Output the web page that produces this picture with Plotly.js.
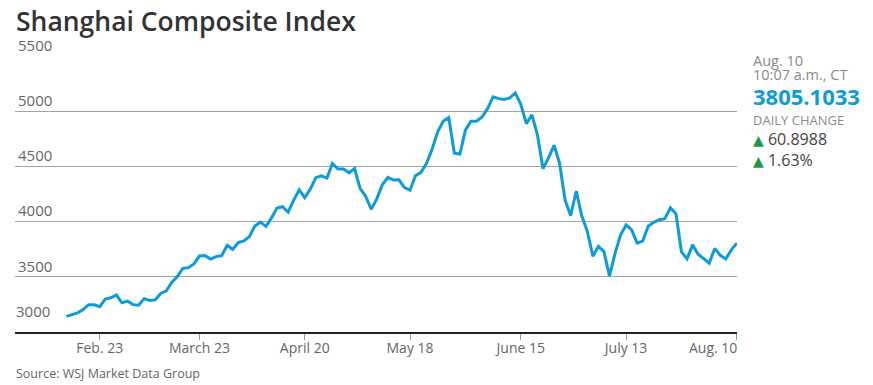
<!DOCTYPE html>
<html>
<head>
<meta charset="utf-8">
<script src="https://cdn.plot.ly/plotly-3.0.1.min.js"></script>
<style>
  html, body { margin: 0; padding: 0; background: #fff; }
  #chart { width: 873px; height: 385px; }
</style>
</head>
<body>
<div id="chart"></div>
<script>
// ---- Data (Shanghai Composite Index, daily closes, trading days) ----
const dates = [
  "2015-02-10","2015-02-11","2015-02-12","2015-02-13","2015-02-16","2015-02-17","2015-02-25","2015-02-26","2015-02-27",
  "2015-03-02","2015-03-03","2015-03-04","2015-03-05","2015-03-06","2015-03-09","2015-03-10","2015-03-11","2015-03-12","2015-03-13",
  "2015-03-16","2015-03-17","2015-03-18","2015-03-19","2015-03-20","2015-03-23","2015-03-24","2015-03-25","2015-03-26","2015-03-27",
  "2015-03-30","2015-03-31",
  "2015-04-01","2015-04-02","2015-04-03","2015-04-07","2015-04-08","2015-04-09","2015-04-10","2015-04-13","2015-04-14","2015-04-15",
  "2015-04-16","2015-04-17","2015-04-20","2015-04-21","2015-04-22","2015-04-23","2015-04-24","2015-04-27","2015-04-28","2015-04-29","2015-04-30",
  "2015-05-04","2015-05-05","2015-05-06","2015-05-07","2015-05-08","2015-05-11","2015-05-12","2015-05-13","2015-05-14","2015-05-15",
  "2015-05-18","2015-05-19","2015-05-20","2015-05-21","2015-05-22","2015-05-25","2015-05-26","2015-05-27","2015-05-28","2015-05-29",
  "2015-06-01","2015-06-02","2015-06-03","2015-06-04","2015-06-05","2015-06-08","2015-06-09","2015-06-10","2015-06-11","2015-06-12",
  "2015-06-15","2015-06-16","2015-06-17","2015-06-18","2015-06-19","2015-06-23","2015-06-24","2015-06-25","2015-06-26","2015-06-29","2015-06-30",
  "2015-07-01","2015-07-02","2015-07-03","2015-07-06","2015-07-07","2015-07-08","2015-07-09","2015-07-10","2015-07-13","2015-07-14",
  "2015-07-15","2015-07-16","2015-07-17","2015-07-20","2015-07-21","2015-07-22","2015-07-23","2015-07-24","2015-07-27","2015-07-28",
  "2015-07-29","2015-07-30","2015-07-31",
  "2015-08-03","2015-08-04","2015-08-05","2015-08-06","2015-08-07","2015-08-10"
];
const closes = [
  3142,3157,3173,3203,3247,3247,3229,3299,3310,
  3336,3264,3280,3248,3242,3302,3286,3291,3349,3372,
  3449,3503,3577,3583,3617,3688,3692,3661,3683,3691,
  3786,3748,
  3810,3825,3863,3961,3995,3957,4034,4122,4135,4085,
  4195,4287,4217,4294,4398,4414,4394,4527,4476,4476,4442,
  4480,4298,4229,4112,4206,4334,4401,4376,4378,4308,
  4284,4417,4446,4530,4658,4813,4910,4942,4620,4612,
  4828,4910,4910,4947,5023,5131,5114,5106,5121,5166,
  5062,4887,4967,4786,4478,4577,4691,4527,4193,4053,4277,
  4053,3913,3687,3776,3728,3507,3710,3878,3970,3925,
  3806,3823,3958,3993,4017,4026,4124,4071,3726,3663,
  3789,3705,3664,
  3623,3757,3695,3662,3744,3805
];
const xTickDates  = ["2015-02-23","2015-03-23","2015-04-20","2015-05-18","2015-06-15","2015-07-13","2015-08-10"];
const xTickLabels = ["Feb. 23","March 23","April 20","May 18","June 15","July 13","Aug. 10"];
const yTickVals   = [3000, 3500, 4000, 4500, 5000, 5500];
const yTickLabels = ["3000","3500","4000","4500","5000","5500"];

const titleText   = "Shanghai Composite Index";
const sourceText  = "Source: WSJ Market Data Group";
const lastDate    = "Aug. 10";
const lastTime    = "10:07 a.m., CT";
const lastValue   = "3805.1033";
const changeLabel = "DAILY CHANGE";
const changePts   = "60.8988";
const changePct   = "1.63%";

// ---- Layout geometry ----
const W = 873, H = 385;
const M = { l: 15, r: 136, t: 56, b: 53.3 };
const plotH = H - M.t - M.b, plotW = W - M.l - M.r;
const py = p => (H - M.b - p) / plotH;       // container px (y) -> paper
const px = p => (p - M.l) / plotW;           // container px (x) -> paper

// category positions for tick dates: first trading day on/after the tick date
const xTickVals = xTickDates.map(d => dates.find(x => x >= d));
const nT = xTickLabels.length;
// the last label is right-aligned to its tick, so it is drawn as an annotation
const xTickText = xTickLabels.map((t, i) => (i === nT - 1 ? "" : t));

const blue = "#0d9bdb";
const green = "#1b9a45";
const FONT = "Open Sans, Noto Sans, DejaVu Sans, sans-serif";
const tri = '<span style="font-size:14px;color:' + green + '">▲</span> ';

const trace = {
  type: "scatter", mode: "lines",
  x: dates, y: closes,
  line: { color: blue, width: 3 },
  hoverinfo: "skip"
};

const rightX = px(750.5);
const annotations = [
  // 3000 label sits higher than the others (avoids the axis line)
  { xref: "paper", yref: "y", x: 0, y: yTickVals[0], xanchor: "left", yanchor: "bottom",
    text: yTickLabels[0], showarrow: false, yshift: 9, xshift: -1,
    font: { family: FONT, size: 15, color: "#666" } },
  // last x tick label, right-aligned on its tick
  { xref: "x", yref: "paper", x: xTickVals[nT - 1], y: py(347.5), xanchor: "right", yanchor: "middle",
    text: xTickLabels[nT - 1], showarrow: false, xshift: 2,
    font: { family: FONT, size: 14, color: "#666" } },
  { xref: "paper", yref: "paper", x: rightX, y: py(60), xanchor: "left", yanchor: "middle",
    text: lastDate, showarrow: false, font: { family: FONT, size: 14.5, color: "#8a8a8a" } },
  { xref: "paper", yref: "paper", x: rightX, y: py(74.3), xanchor: "left", yanchor: "middle",
    text: lastTime, showarrow: false, font: { family: FONT, size: 14.5, color: "#8a8a8a" } },
  { xref: "paper", yref: "paper", x: rightX, y: py(96), xanchor: "left", yanchor: "middle",
    text: "<b>" + lastValue + "</b>", showarrow: false, font: { family: FONT, size: 22, color: blue } },
  { xref: "paper", yref: "paper", x: rightX, y: py(119.7), xanchor: "left", yanchor: "middle",
    text: changeLabel, showarrow: false, font: { family: FONT, size: 13, color: "#8a8a8a" } },
  { xref: "paper", yref: "paper", x: rightX, y: py(139), xanchor: "left", yanchor: "middle",
    text: tri + changePts, showarrow: false,
    font: { family: FONT, size: 16, color: "#444" } },
  { xref: "paper", yref: "paper", x: rightX, y: py(159.7), xanchor: "left", yanchor: "middle",
    text: tri + changePct, showarrow: false,
    font: { family: FONT, size: 16, color: "#444" } },
  { xref: "paper", yref: "paper", x: px(14), y: py(373), xanchor: "left", yanchor: "middle",
    text: sourceText, showarrow: false, font: { family: FONT, size: 12.5, color: "#666" } }
];

const layout = {
  width: W, height: H,
  margin: M,
  paper_bgcolor: "#fff", plot_bgcolor: "#fff",
  showlegend: false,
  title: {
    text: titleText,
    xref: "container", yref: "container",
    x: 16 / W, xanchor: "left",
    y: 1 - 21.5 / H, yanchor: "middle",
    font: { family: FONT, size: 26.5, color: "#333", weight: 600 }
  },
  xaxis: {
    type: "category",
    range: [-9.3, dates.length - 1 + 0.02],
    tickmode: "array", tickvals: xTickVals, ticktext: xTickText,
    ticks: "outside", ticklen: 6, tickwidth: 1, tickcolor: "#999",
    ticklabelstandoff: -3,
    showline: true, linecolor: "#222", linewidth: 1.5,
    showgrid: false, zeroline: false,
    tickfont: { family: FONT, size: 14, color: "#666" },
    fixedrange: true
  },
  yaxis: {
    range: [3000, 5500],
    tickmode: "array", tickvals: yTickVals.slice(1), ticktext: yTickLabels.slice(1),
    ticklabelposition: "inside top", ticklabeloverflow: "allow",
    ticks: "", showline: false, zeroline: false,
    showgrid: true, gridcolor: "#a3a3a3", gridwidth: 1,
    tickfont: { family: FONT, size: 15, color: "#666" },
    fixedrange: true
  },
  annotations: annotations
};

Plotly.newPlot("chart", [trace], layout, { displayModeBar: false, staticPlot: true });
</script>
</body>
</html>
